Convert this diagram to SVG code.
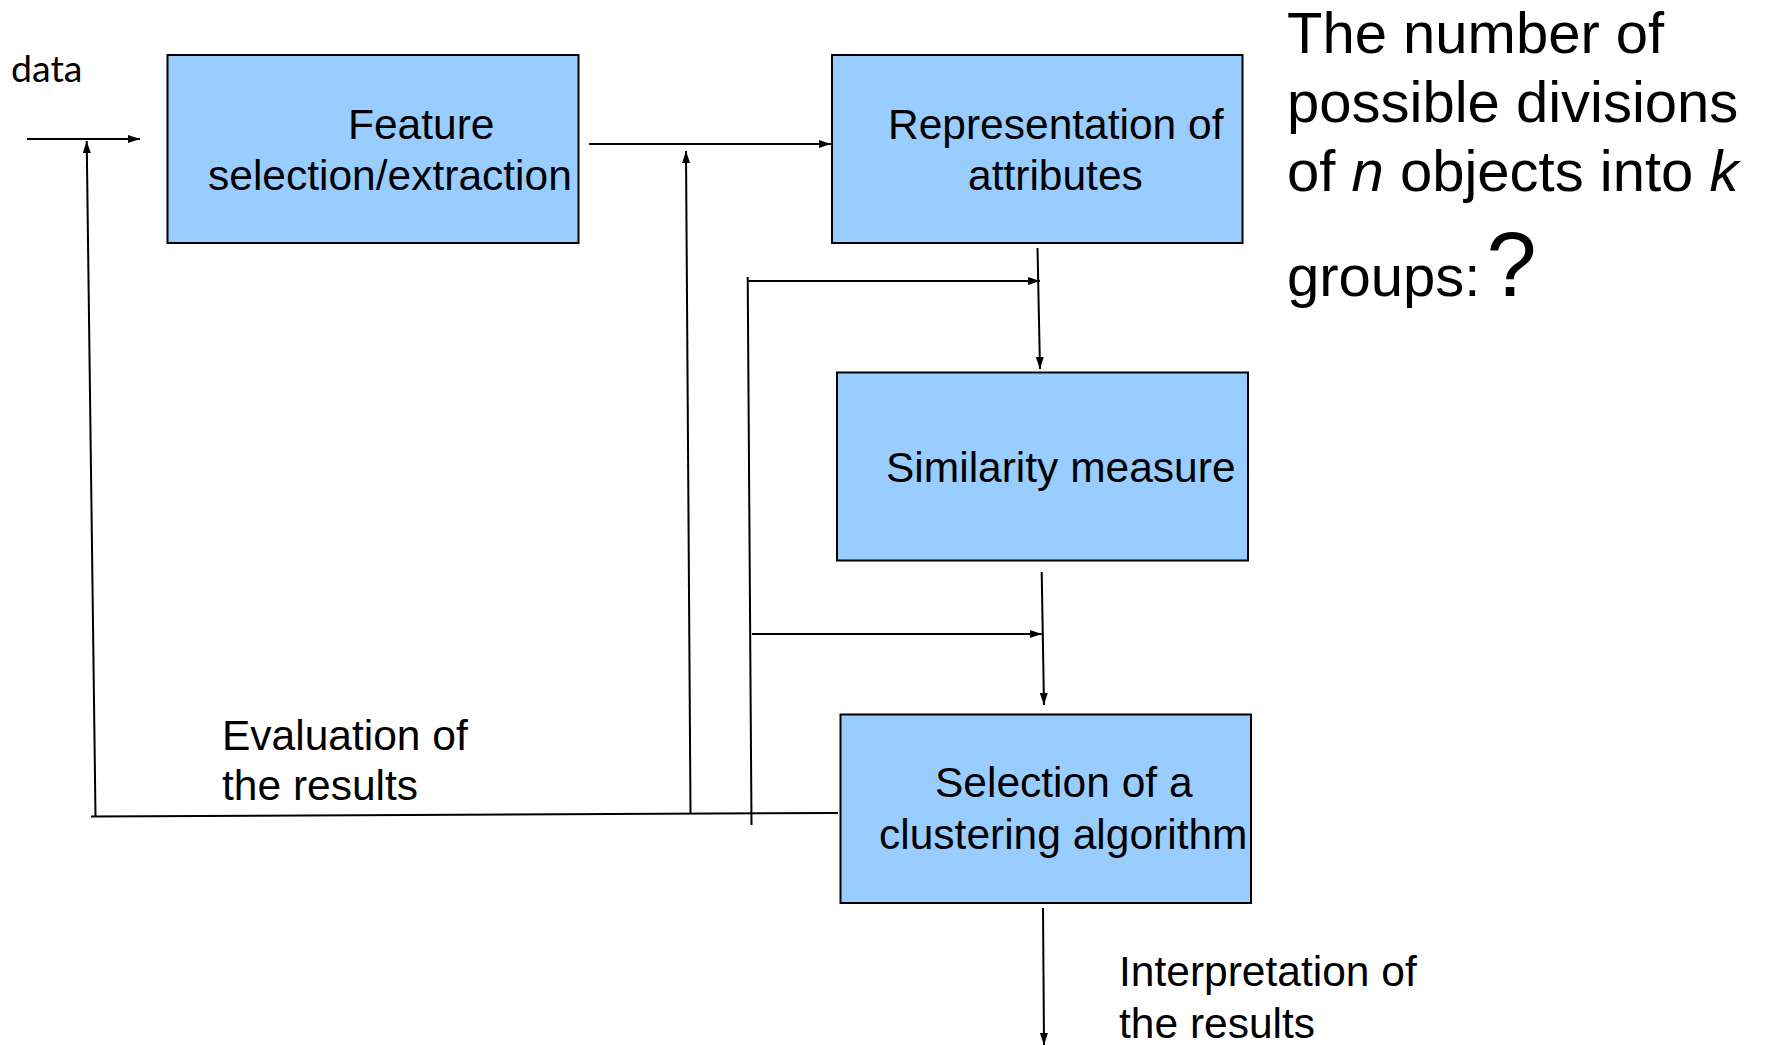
<svg xmlns="http://www.w3.org/2000/svg" width="1765" height="1045" viewBox="0 0 1765 1045">
  <defs>
    <marker id="arr" markerUnits="userSpaceOnUse" markerWidth="13" markerHeight="9" refX="12" refY="4" orient="auto">
      <path d="M0,0 L12,4 L0,8 z" fill="#000"/>
    </marker>
    <style>
      .box { fill: #99ccff; stroke: #000; stroke-width: 2; }
      .lbl { font-family: "Liberation Sans", Arial, sans-serif; font-size: 42.5px; fill: #000; }
      .big { font-family: "Liberation Sans", Arial, sans-serif; font-size: 58px; fill: #000; }
      .data { font-family: Lato, "Open Sans", sans-serif; font-size: 37.5px; fill: #000; }
      .c { fill: none; stroke: #000; stroke-width: 2; }
      .ca { fill: none; stroke: #000; stroke-width: 2; marker-end: url(#arr); }
    </style>
  </defs>
  <rect width="1765" height="1045" fill="#fff"/>

  <g id="connectors">
    <path class="ca" d="M27,139 L140,139"/>
    <path class="ca" d="M95.5,816 L86.7,141"/>
    <path class="c" d="M91,816.5 L838,813"/>
    <path class="ca" d="M690.5,813 L686,151"/>
    <path class="ca" d="M589,144 L831,144"/>
    <path class="c" d="M747.7,277 L751.5,825"/>
    <path class="ca" d="M747.7,281 L1040,281"/>
    <path class="ca" d="M1037.5,248 L1040,369"/>
    <path class="ca" d="M752,634 L1041.7,634"/>
    <path class="ca" d="M1041.7,572 L1044,705"/>
    <path class="ca" d="M1043,908 L1044,1045"/>
  </g>

  <g id="data-label">
    <text class="data" x="11" y="82">data</text>
  </g>

  <g id="feature">
    <rect class="box" x="167.5" y="55" width="411" height="188"/>
    <text class="lbl" x="348" y="139">Feature</text>
    <text class="lbl" x="208" y="190">selection/extraction</text>
  </g>

  <g id="representation">
    <rect class="box" x="832" y="55" width="410.5" height="188"/>
    <text class="lbl" x="888" y="139">Representation of</text>
    <text class="lbl" x="968" y="190">attributes</text>
  </g>

  <g id="similarity">
    <rect class="box" x="837" y="372.5" width="411" height="188"/>
    <text class="lbl" x="886" y="482">Similarity measure</text>
  </g>

  <g id="selection">
    <rect class="box" x="840.5" y="714.5" width="410.5" height="188.5"/>
    <text class="lbl" x="935" y="797">Selection of a</text>
    <text class="lbl" x="879" y="849">clustering algorithm</text>
  </g>

  <g id="evaluation">
    <text class="lbl" x="222" y="750">Evaluation of</text>
    <text class="lbl" x="222" y="800">the results</text>
  </g>

  <g id="interpretation">
    <text class="lbl" x="1119" y="986">Interpretation of</text>
    <text class="lbl" x="1119" y="1038">the results</text>
  </g>

  <g id="note">
    <text class="big" x="1287" y="53">The number of</text>
    <text class="big" x="1287" y="122">possible divisions</text>
    <text class="big" x="1287" y="191">of <tspan font-style="italic">n</tspan> objects into <tspan font-style="italic">k</tspan></text>
    <text class="big" x="1287" y="296">groups:<tspan dx="6" font-size="90">?</tspan></text>
  </g>
</svg>
